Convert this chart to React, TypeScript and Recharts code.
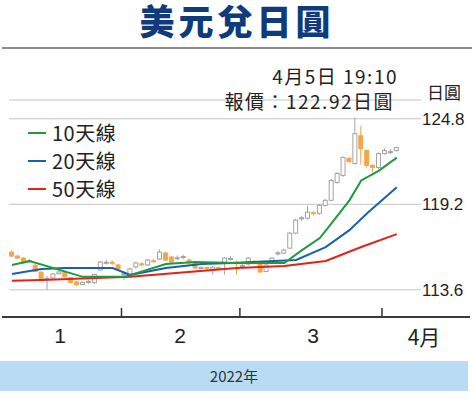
import React from 'react';
import { ComposedChart, Bar, Line, XAxis, YAxis, CartesianGrid } from 'recharts';

// daily candles, Jan - Apr 5 2022
const opens = [
  116.07, 115.81, 115.68, 115.42, 115.2, 114.75, 114.3, 114.38, 114.65, 114.72,
  114.4, 114.12, 113.95, 114.08, 114.06, 114.9, 115.35, 115.4, 115.23, 114.62,
  114.58, 115.1, 115.3, 115.23, 115.5, 115.62, 116.01, 115.75, 115.65, 115.72,
  115.55, 115.36, 115.0, 115.06, 114.95, 115.05, 115.36, 115.6, 115.38, 115.14,
  115.29, 115.45, 115.42, 114.8, 115.42, 115.95, 116.0, 116.33, 117.31, 118.25,
  118.29, 118.65, 118.61, 119.13, 119.46, 120.63, 121.09, 122.2, 121.87, 123.69,
  122.72, 121.74, 121.61, 122.52, 122.6, 122.72,
];
const highs = [
  116.2, 115.9, 115.75, 115.62, 115.3, 114.8, 114.5, 114.7, 114.85, 114.8,
  114.45, 114.15, 114.15, 114.25, 114.65, 115.5, 115.55, 115.55, 115.3, 114.75,
  115.05, 115.45, 115.42, 115.62, 115.62, 116.25, 116.1, 115.8, 115.85, 115.9,
  115.65, 115.42, 115.12, 115.15, 115.15, 115.12, 115.75, 115.8, 115.5, 115.3,
  115.75, 115.55, 115.5, 115.3, 115.75, 116.15, 116.3, 117.4, 118.25, 118.45,
  119.1, 118.75, 119.2, 119.55, 120.85, 121.3, 122.35, 122.3, 124.87, 124.35,
  122.8, 121.85, 122.6, 122.85, 122.8, 122.98,
];
const lows = [
  115.75, 115.62, 115.3, 115.36, 114.75, 114.2, 113.6, 114.3, 114.6, 114.4,
  114.0, 113.85, 113.9, 114.0, 114.0, 114.85, 115.25, 115.2, 114.9, 114.25,
  114.5, 115.0, 115.15, 115.15, 115.38, 115.55, 115.48, 115.35, 115.55, 115.6,
  115.3, 114.97, 114.95, 114.9, 114.58, 114.92, 114.58, 115.5, 114.58, 115.05,
  115.2, 115.3, 114.7, 114.75, 115.35, 115.85, 115.95, 116.25, 117.25, 118.1,
  118.2, 118.45, 118.5, 119.05, 119.4, 120.55, 121.0, 121.9, 121.8, 121.8,
  121.6, 121.3, 121.5, 122.45, 122.5, 122.65,
];
const closes = [
  115.81, 115.68, 115.36, 115.5, 114.8, 114.28, 114.35, 114.64, 114.77, 114.45,
  114.08, 113.93, 114.08, 114.15, 114.6, 115.42, 115.4, 115.36, 114.97, 114.66,
  114.97, 115.36, 115.27, 115.55, 115.48, 116.07, 115.55, 115.42, 115.7, 115.78,
  115.36, 115.03, 115.06, 115.02, 115.08, 115.0, 115.68, 115.65, 115.33, 115.18,
  115.68, 115.4, 114.77, 115.23, 115.68, 116.02, 116.2, 117.31, 118.16, 118.32,
  118.68, 118.58, 119.13, 119.46, 120.76, 121.22, 122.26, 122.0, 123.82, 122.85,
  121.74, 121.61, 122.52, 122.72, 122.65, 122.92,
];

// moving averages: [day index, value]
const ma10Points = [
  [0, 115.23], [3, 115.49], [12, 114.45], [19, 114.45], [26, 115.29], [31, 115.42],
  [38, 115.36], [46, 115.36], [49, 116.2], [52, 116.99], [54, 117.96], [57, 119.46],
  [59, 120.76], [62, 121.41], [65, 122.26],
];
const ma20Points = [
  [0, 114.64], [5, 114.97], [9, 115.03], [17, 115.03], [20, 114.58], [26, 115.03],
  [32, 115.29], [37, 115.36], [48, 115.55], [53, 116.4], [57, 117.51], [60, 118.61],
  [65, 120.31],
];
const ma50Points = [
  [0, 114.19], [5, 114.25], [20, 114.45], [38, 115.03], [46, 115.16], [53, 115.49],
  [59, 116.4], [65, 117.25],
];

const monthStarts = [19, 39, 63];
const yTicks = [113.6, 119.2, 124.8];
const monthLabels = [
  { text: '1', x: 60 },
  { text: '2', x: 180 },
  { text: '3', x: 313 },
  { text: '4月', x: 424 },
];
const legendItems = [
  { name: '10天線', color: '#1f9a3c', y: 133 },
  { name: '20天線', color: '#1b5fae', y: 161 },
  { name: '50天線', color: '#e2231a', y: 189 },
];

const pick = (pts: number[][], i: number) => {
  const p = pts.find((q) => q[0] === i);
  return p ? p[1] : null;
};

const data = closes.map((c, i) => ({
  i,
  open: opens[i],
  high: highs[i],
  low: lows[i],
  close: c,
  ma10: pick(ma10Points, i),
  ma20: pick(ma20Points, i),
  ma50: pick(ma50Points, i),
}));

const W = 474;
const PLOT_LEFT = 9;
const PLOT_RIGHT = 421;
const BAND = 5.92;
const CJK = '"Noto Sans CJK TC", "Noto Sans CJK SC", sans-serif';
const LATIN = '"Liberation Sans", Arial, sans-serif';

const Candle = (props: any) => {
  const { x, y, width, height, payload } = props;
  if (!payload || !height) return null;
  const { open, close, high, low } = payload;
  const span = high - low;
  const py = (v: number) => y + ((high - v) / span) * height;
  const up = close >= open;
  const cx = x + width / 2;
  const top = py(Math.max(open, close));
  const bot = py(Math.min(open, close));
  const bh = Math.max(bot - top, 1);
  const wick = up ? '#a3a3a3' : '#f0a545';
  return (
    <g>
      <line x1={cx} x2={cx} y1={y} y2={y + height} stroke={wick} strokeWidth={1} />
      <rect
        x={cx - 2}
        y={top}
        width={4}
        height={bh}
        fill={up ? '#ffffff' : '#f3a748'}
        stroke={up ? '#a3a3a3' : '#f3a748'}
        strokeWidth={1}
      />
    </g>
  );
};

// month boundary tick, drawn half a day left of the first trading day
const MonthTick = (props: any) => {
  const { x, y } = props;
  const bx = x - BAND / 2;
  return <line x1={bx} x2={bx} y1={y} y2={y - 9} stroke="#333" strokeWidth={1.5} />;
};

export default function App() {
  return (
    <div
      style={{
        position: 'absolute',
        left: 0,
        top: 0,
        width: W,
        height: 399,
        background: '#fff',
        overflow: 'hidden',
        fontFamily: CJK,
        color: '#222',
      }}
    >
      <div
        style={{
          position: 'absolute',
          top: 0,
          left: 0,
          width: W,
          height: 40,
          lineHeight: '40px',
          textAlign: 'center',
          fontSize: 35,
          fontWeight: 900,
          letterSpacing: 4,
          color: '#0f3b7d',
        }}
      >
        美元兌日圓
      </div>
      <div style={{ position: 'absolute', top: 47, left: 2, width: 470, height: 2, background: '#8a8a8a' }} />

      <div style={{ position: 'absolute', left: 0, top: 0 }}>
        <ComposedChart
          width={W}
          height={318}
          data={data}
          margin={{ top: 100, right: 3, left: PLOT_LEFT, bottom: 0 }}
        >
          <CartesianGrid horizontal vertical={false} stroke="#c4c4c4" strokeWidth={1} />
          <XAxis
            dataKey="i"
            type="category"
            height={1}
            ticks={monthStarts}
            interval={0}
            axisLine={false}
            tickLine={false}
            tickSize={0}
            tickMargin={0}
            tick={<MonthTick />}
            padding={{ left: 0, right: PLOT_RIGHT - PLOT_LEFT - BAND * data.length }}
          />
          <YAxis
            orientation="right"
            width={50}
            domain={[111.82, 126.03]}
            ticks={yTicks}
            axisLine={false}
            tickLine={false}
            tickSize={0}
            tickMargin={1}
            tick={{ fill: '#222', fontSize: 17, fontFamily: LATIN }}
            tickFormatter={(v: number) => v.toFixed(1)}
          />
          <Bar
            dataKey={(d: any) => [d.low, d.high]}
            shape={<Candle />}
            barSize={5}
            isAnimationActive={false}
          />
          <Line type="linear" dataKey="ma50" stroke="#e2231a" strokeWidth={2} dot={false} connectNulls isAnimationActive={false} />
          <Line type="linear" dataKey="ma20" stroke="#1b5fae" strokeWidth={2} dot={false} connectNulls isAnimationActive={false} />
          <Line type="linear" dataKey="ma10" stroke="#1f9a3c" strokeWidth={2} dot={false} connectNulls isAnimationActive={false} />
        </ComposedChart>
      </div>

      <div style={{ position: 'absolute', top: 316, left: 2, width: 468, height: 2, background: '#3a3a3a' }} />

      <div style={{ position: 'absolute', right: 76, top: 66, fontSize: 19, lineHeight: '20px', whiteSpace: 'nowrap', letterSpacing: 1.5 }}>
        4月5日 19:10
      </div>
      <div style={{ position: 'absolute', right: 80, top: 91, fontSize: 19, lineHeight: '20px', whiteSpace: 'nowrap', letterSpacing: 1.5 }}>
        報價：122.92日圓
      </div>
      <div style={{ position: 'absolute', left: 427, top: 81, fontSize: 17, lineHeight: '22px', whiteSpace: 'nowrap' }}>
        日圓
      </div>

      {legendItems.map((it) => (
        <div key={it.name} style={{ position: 'absolute', left: 28, top: it.y - 12, height: 24, display: 'flex', alignItems: 'center' }}>
          <div style={{ width: 18, height: 2, background: it.color, marginRight: 6 }} />
          <span style={{ fontSize: 20, lineHeight: '24px', letterSpacing: 0.5 }}>{it.name}</span>
        </div>
      ))}

      {monthLabels.map((m) => (
        <div
          key={m.text}
          style={{
            position: 'absolute',
            left: m.x - 30,
            width: 60,
            top: 323,
            textAlign: 'center',
            fontSize: 21,
            lineHeight: '26px',
            fontFamily: m.text.length > 1 ? CJK : LATIN,
          }}
        >
          {m.text}
        </div>
      ))}

      <div
        style={{
          position: 'absolute',
          top: 361,
          left: 0,
          width: 468,
          height: 30,
          background: '#b8dcf4',
          textAlign: 'center',
          lineHeight: '30px',
          fontSize: 15,
          color: '#333',
        }}
      >
        2022年
      </div>
    </div>
  );
}
